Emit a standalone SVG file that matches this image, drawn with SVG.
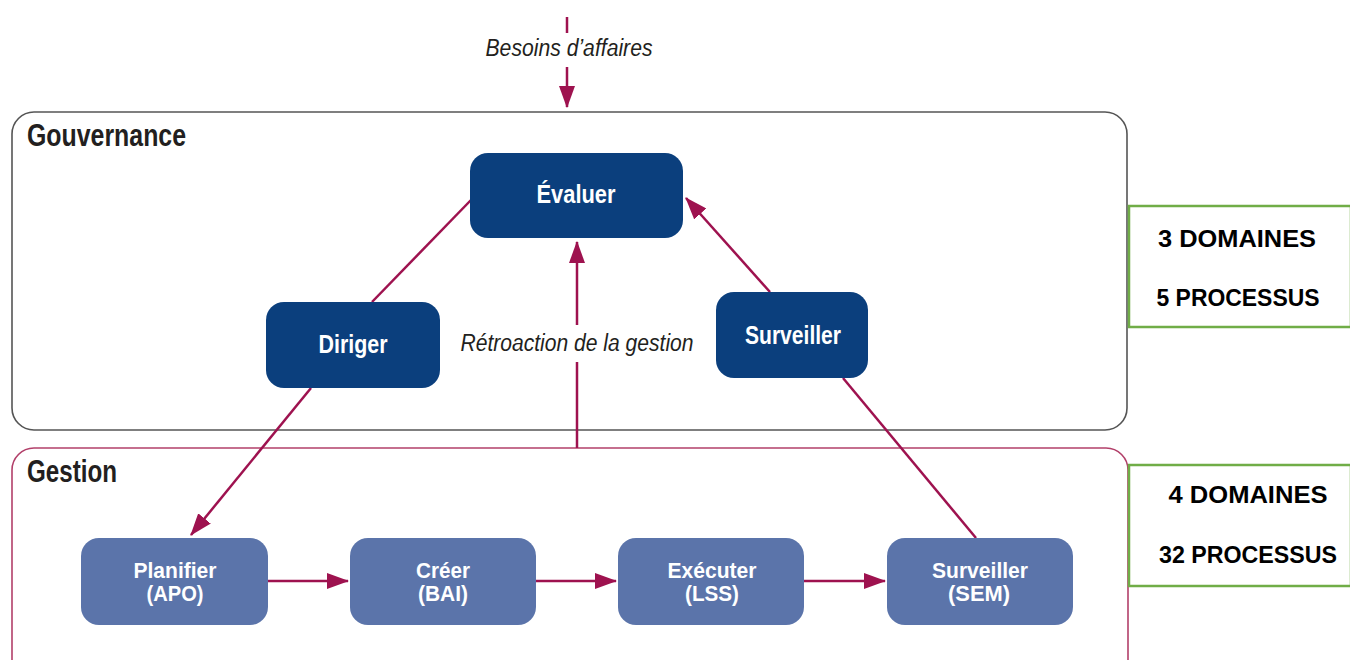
<svg xmlns="http://www.w3.org/2000/svg" width="1350" height="660" viewBox="0 0 1350 660">
  <style>
    .title { font-family: "Liberation Sans", Arial, sans-serif; font-weight: bold; font-size: 31px; fill: #231f20; }
    .lbl { font-family: "Liberation Sans", Arial, sans-serif; font-weight: bold; font-size: 25px; fill: #ffffff; text-anchor: middle; }
    .lbl2 { font-family: "Liberation Sans", Arial, sans-serif; font-weight: bold; font-size: 22px; fill: #ffffff; text-anchor: middle; }
    .note { font-family: "Liberation Sans", Arial, sans-serif; font-style: italic; font-size: 23px; fill: #231f20; text-anchor: middle; }
    .count { font-family: "Liberation Sans", Arial, sans-serif; font-weight: bold; font-size: 24px; fill: #000000; text-anchor: middle; }
    .gov { fill: #0b3f7d; }
    .mgt { fill: #5b74aa; }
    .link { stroke: #9e124f; stroke-width: 2.5; fill: none; }
    .green { fill: #ffffff; stroke: #70ad47; stroke-width: 2.5; }
  </style>
  <defs>
    <marker id="arrow" viewBox="0 0 10 10" preserveAspectRatio="none" refX="9.5" refY="5" markerWidth="9" markerHeight="6.5" orient="auto" markerUnits="strokeWidth">
      <path d="M0,0 L10,5 L0,10 z" fill="#9e124f"/>
    </marker>
  </defs>

  <rect width="1350" height="660" fill="#ffffff"/>

  <!-- domain frames -->
  <g id="gouvernance">
    <rect x="12" y="112" width="1115" height="318" rx="22" fill="none" stroke="#555555" stroke-width="1.6"/>
    <text class="title" x="27" y="146" textLength="159" lengthAdjust="spacingAndGlyphs">Gouvernance</text>
  </g>
  <g id="gestion">
    <rect x="12" y="448" width="1116" height="240" rx="22" fill="none" stroke="#b2406a" stroke-width="1.6"/>
    <text class="title" x="27" y="482" textLength="90" lengthAdjust="spacingAndGlyphs">Gestion</text>
  </g>

  <!-- connectors -->
  <g id="connectors">
    <line class="link" x1="567" y1="17" x2="567" y2="33"/>
    <line class="link" x1="567" y1="67" x2="567" y2="107" marker-end="url(#arrow)"/>
    <line class="link" x1="471" y1="200" x2="372" y2="302"/>
    <line class="link" x1="311" y1="388" x2="191" y2="535" marker-end="url(#arrow)"/>
    <line class="link" x1="770" y1="292" x2="686" y2="198" marker-end="url(#arrow)"/>
    <line class="link" x1="843" y1="378" x2="976" y2="538"/>
    <line class="link" x1="577" y1="448" x2="577" y2="362"/>
    <line class="link" x1="577" y1="325" x2="577" y2="242" marker-end="url(#arrow)"/>
    <line class="link" x1="268" y1="581" x2="348" y2="581" marker-end="url(#arrow)"/>
    <line class="link" x1="536" y1="581" x2="616" y2="581" marker-end="url(#arrow)"/>
    <line class="link" x1="804" y1="581" x2="885" y2="581" marker-end="url(#arrow)"/>
  </g>

  <g id="label-besoins">
    <text class="note" x="569" y="56" textLength="167" lengthAdjust="spacingAndGlyphs">Besoins d’affaires</text>
  </g>
  <g id="label-retroaction">
    <text class="note" x="577" y="351" textLength="233" lengthAdjust="spacingAndGlyphs">Rétroaction de la gestion</text>
  </g>

  <!-- governance processes -->
  <g id="evaluer">
    <rect class="gov" x="470" y="153" width="213" height="85" rx="18"/>
    <text class="lbl" x="576" y="203" textLength="79" lengthAdjust="spacingAndGlyphs">Évaluer</text>
  </g>
  <g id="diriger">
    <rect class="gov" x="266" y="302" width="174" height="86" rx="18"/>
    <text class="lbl" x="353" y="353" textLength="69" lengthAdjust="spacingAndGlyphs">Diriger</text>
  </g>
  <g id="surveiller">
    <rect class="gov" x="716" y="292" width="152" height="86" rx="18"/>
    <text class="lbl" x="793" y="344" textLength="96" lengthAdjust="spacingAndGlyphs">Surveiller</text>
  </g>

  <!-- management domains -->
  <g id="planifier">
    <rect class="mgt" x="81" y="538" width="187" height="87" rx="18"/>
    <text class="lbl2" x="175" y="578" textLength="83" lengthAdjust="spacingAndGlyphs">Planifier</text>
    <text class="lbl2" x="175" y="601" textLength="57" lengthAdjust="spacingAndGlyphs">(APO)</text>
  </g>
  <g id="creer">
    <rect class="mgt" x="350" y="538" width="186" height="87" rx="18"/>
    <text class="lbl2" x="443" y="578" textLength="54" lengthAdjust="spacingAndGlyphs">Créer</text>
    <text class="lbl2" x="443" y="601" textLength="50" lengthAdjust="spacingAndGlyphs">(BAI)</text>
  </g>
  <g id="executer">
    <rect class="mgt" x="618" y="538" width="186" height="87" rx="18"/>
    <text class="lbl2" x="712" y="578" textLength="89" lengthAdjust="spacingAndGlyphs">Exécuter</text>
    <text class="lbl2" x="712" y="601" textLength="54" lengthAdjust="spacingAndGlyphs">(LSS)</text>
  </g>
  <g id="surveiller-sem">
    <rect class="mgt" x="887" y="538" width="186" height="87" rx="18"/>
    <text class="lbl2" x="980" y="578" textLength="96" lengthAdjust="spacingAndGlyphs">Surveiller</text>
    <text class="lbl2" x="979" y="601" textLength="62" lengthAdjust="spacingAndGlyphs">(SEM)</text>
  </g>

  <!-- counts -->
  <g id="count-gouvernance">
    <rect class="green" x="1129" y="206" width="222" height="121"/>
    <text class="count" x="1237" y="247" textLength="158" lengthAdjust="spacingAndGlyphs">3 DOMAINES</text>
    <text class="count" x="1238" y="306" textLength="163" lengthAdjust="spacingAndGlyphs">5 PROCESSUS</text>
  </g>
  <g id="count-gestion">
    <rect class="green" x="1129" y="465" width="222" height="121"/>
    <text class="count" x="1248" y="503" textLength="159" lengthAdjust="spacingAndGlyphs">4 DOMAINES</text>
    <text class="count" x="1248" y="563" textLength="178" lengthAdjust="spacingAndGlyphs">32 PROCESSUS</text>
  </g>
</svg>
